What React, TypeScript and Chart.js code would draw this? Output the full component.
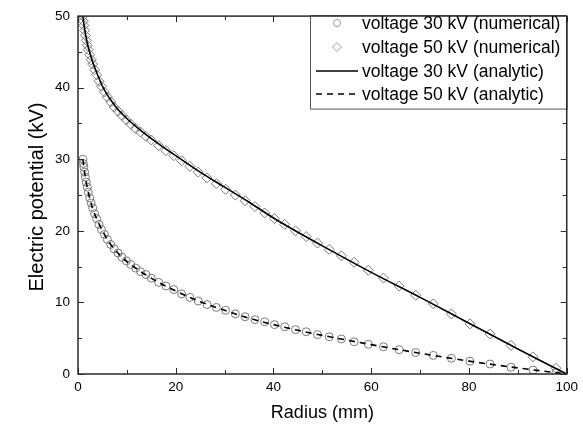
import React, { useEffect, useRef } from "react";
import { Chart, registerables } from "chart.js";

Chart.register(...registerables);

const FONT = "'Liberation Sans', Arial, Helvetica, sans-serif";

// Radius mesh of the numerical solution (mm)
const radius = [
  1.0, 1.1, 1.2, 1.35, 1.5, 1.7, 1.9, 2.1, 2.4, 2.7,
  3.0, 3.4, 3.8, 4.3, 4.8, 5.4, 6.0, 6.7, 7.4, 8.2,
  9.0, 9.9, 10.8, 11.8, 12.8, 13.9, 15.0, 16.5, 18.0, 19.6,
  21.2, 22.9, 24.6, 26.4, 28.3, 30.2, 32.2, 34.2, 36.2, 38.2,
  40.2, 42.3, 44.5, 46.7, 49.0, 51.4, 53.9, 56.5, 59.4, 62.5,
  65.7, 69.1, 72.7, 76.4, 80.2, 84.3, 88.6, 93.1, 97.8,
];

// voltage 30 kV (numerical), kV
const potential30Numerical = [
  30.0, 29.4, 28.9, 28.2, 27.5, 26.8, 26.1, 25.4, 24.6, 23.9,
  23.2, 22.4, 21.7, 20.9, 20.2, 19.5, 18.8, 18.1, 17.5, 16.9,
  16.3, 15.8, 15.3, 14.8, 14.3, 13.9, 13.4, 12.8, 12.3, 11.8,
  11.2, 10.7, 10.2, 9.7, 9.3, 8.9, 8.4, 8.0, 7.6, 7.3,
  6.9, 6.6, 6.2, 5.9, 5.5, 5.2, 4.9, 4.5, 4.15, 3.8,
  3.4, 3.0, 2.6, 2.2, 1.8, 1.4, 0.95, 0.55, 0.2,
];

// voltage 50 kV (numerical), kV
const potential50Numerical = [
  50.0, 49.3, 48.7, 48.0, 47.3, 46.6, 45.9, 45.3, 44.6, 43.9,
  43.3, 42.5, 41.8, 40.9, 40.2, 39.4, 38.7, 38.0, 37.3, 36.7,
  36.1, 35.5, 34.9, 34.3, 33.8, 33.2, 32.7, 31.9, 31.2, 30.5,
  29.8, 29.0, 28.2, 27.4, 26.6, 25.8, 25.0, 24.2, 23.4, 22.5,
  21.7, 20.9, 20.0, 19.2, 18.3, 17.4, 16.5, 15.6, 14.5, 13.4,
  12.3, 11.0, 9.8, 8.4, 7.0, 5.6, 4.0, 2.4, 0.8,
];

// Analytic curves
const analyticRadius = [
  1, 1.2, 1.5, 2, 2.5, 3, 4, 5, 6, 7, 8, 10, 12, 14, 17, 20,
  25, 30, 35, 40, 45, 50, 60, 70, 80, 90, 100,
];
// solid line (legend: voltage 30 kV (analytic)) – upper curve
const analyticSolid = [
  50.0, 48.9, 47.6, 45.9, 44.7, 43.6, 41.8, 40.2, 39.0, 38.0, 37.1, 35.7,
  34.5, 33.4, 31.9, 30.5, 28.2, 26.1, 24.0, 21.8, 19.8, 17.9, 14.2, 10.7,
  7.1, 3.5, 0,
];
// dashed line (legend: voltage 50 kV (analytic)) – lower curve
const analyticDashed = [
  30.0, 28.9, 27.5, 25.7, 24.3, 23.1, 21.4, 20.0, 18.8, 17.8, 17.0, 15.7,
  14.7, 13.8, 12.6, 11.6, 10.1, 8.9, 7.8, 6.9, 6.1, 5.4, 4.1, 2.9,
  1.8, 0.85, 0,
];

const xMajorTicks = [0, 20, 40, 60, 80, 100];
const xMinorTicks = [10, 30, 50, 70, 90];
const yMajorTicks = [0, 10, 20, 30, 40, 50];
const yMinorTicks = [5, 15, 25, 35, 45];

const legendLabels = [
  "voltage 30 kV (numerical)",
  "voltage 50 kV (numerical)",
  "voltage 30 kV (analytic)",
  "voltage 50 kV (analytic)",
];
const xTitle = "Radius (mm)";
const yTitle = "Electric potential (kV)";

const MARKER_COLOR = "#7a7a7a";

const decorPlugin = {
  id: "decor",
  afterDraw(chart: any) {
    const ctx: CanvasRenderingContext2D = chart.ctx;
    const { left, right, top, bottom } = chart.chartArea;
    const xs = chart.scales.x;
    const ys = chart.scales.y;
    ctx.save();
    // frame
    ctx.strokeStyle = "#2a2a2a";
    ctx.lineWidth = 1.5;
    ctx.strokeRect(left, top, right - left, bottom - top);
    // ticks (inward)
    ctx.lineWidth = 1;
    ctx.beginPath();
    const tickX = (v: number, len: number) => {
      const px = Math.round(xs.getPixelForValue(v)) + 0.5;
      ctx.moveTo(px, bottom);
      ctx.lineTo(px, bottom - len);
      ctx.moveTo(px, top);
      ctx.lineTo(px, top + len);
    };
    const tickY = (v: number, len: number) => {
      const py = Math.round(ys.getPixelForValue(v)) + 0.5;
      ctx.moveTo(left, py);
      ctx.lineTo(left + len, py);
      ctx.moveTo(right, py);
      ctx.lineTo(right - len, py);
    };
    xMajorTicks.forEach((v) => tickX(v, 6));
    xMinorTicks.forEach((v) => tickX(v, 4));
    yMajorTicks.forEach((v) => tickY(v, 6));
    yMinorTicks.forEach((v) => tickY(v, 4));
    ctx.stroke();

    // axis titles
    ctx.fillStyle = "#000";
    ctx.font = `18px ${FONT}`;
    ctx.textAlign = "center";
    ctx.textBaseline = "middle";
    ctx.fillText(xTitle, (left + right) / 2, 413);
    ctx.save();
    ctx.translate(37, 197);
    ctx.rotate(-Math.PI / 2);
    ctx.font = `20px ${FONT}`;
    ctx.fillText(yTitle, 0, 0);
    ctx.restore();

    // legend box
    const bx = 310.5;
    const by = top;
    const bw = right - bx;
    const bh = 93;
    ctx.fillStyle = "#fff";
    ctx.fillRect(bx, by, bw, bh);
    ctx.strokeStyle = "#555";
    ctx.lineWidth = 1;
    ctx.beginPath();
    ctx.moveTo(bx, by);
    ctx.lineTo(bx, by + bh);
    ctx.lineTo(right, by + bh);
    ctx.stroke();
    // redraw frame edges over legend
    ctx.strokeStyle = "#2a2a2a";
    ctx.lineWidth = 1.5;
    ctx.beginPath();
    ctx.moveTo(right, top);
    ctx.lineTo(right, by + bh + 1);
    ctx.moveTo(bx, top);
    ctx.lineTo(right, top);
    ctx.stroke();

    const rowY = [23, 47, 71, 94];
    const symX = 337;
    const lineX0 = 316;
    const lineX1 = 358;
    const textX = 362;
    // row 1: circle
    ctx.strokeStyle = "#9a9a9a";
    ctx.lineWidth = 1;
    ctx.beginPath();
    ctx.arc(symX, rowY[0], 3.5, 0, Math.PI * 2);
    ctx.stroke();
    // row 2: diamond
    ctx.beginPath();
    ctx.moveTo(symX, rowY[1] - 4.5);
    ctx.lineTo(symX + 4.5, rowY[1]);
    ctx.lineTo(symX, rowY[1] + 4.5);
    ctx.lineTo(symX - 4.5, rowY[1]);
    ctx.closePath();
    ctx.stroke();
    // row 3: solid
    ctx.strokeStyle = "#000";
    ctx.lineWidth = 1.5;
    ctx.beginPath();
    ctx.moveTo(lineX0, rowY[2]);
    ctx.lineTo(lineX1, rowY[2]);
    ctx.stroke();
    // row 4: dashed
    ctx.setLineDash([6, 5]);
    ctx.beginPath();
    ctx.moveTo(lineX0, rowY[3]);
    ctx.lineTo(lineX1, rowY[3]);
    ctx.stroke();
    ctx.setLineDash([]);

    ctx.fillStyle = "#000";
    ctx.font = `17.5px ${FONT}`;
    ctx.textAlign = "left";
    ctx.textBaseline = "middle";
    legendLabels.forEach((t, i) => ctx.fillText(t, textX, rowY[i] + 1));
    ctx.restore();
  },
};

export default function App() {
  const canvasRef = useRef<HTMLCanvasElement | null>(null);

  useEffect(() => {
    document.body.style.margin = "0";
    const canvas = canvasRef.current;
    if (!canvas) return;
    const toXY = (xv: number[], yv: number[]) =>
      xv.map((x, i) => ({ x, y: yv[i] }));

    const chart = new Chart(canvas, {
      type: "scatter",
      data: {
        datasets: [
          {
            label: legendLabels[2],
            type: "line",
            data: toXY(analyticRadius, analyticSolid),
            borderColor: "#000",
            borderWidth: 1.6,
            pointRadius: 0,
            showLine: true,
            fill: false,
            cubicInterpolationMode: "monotone",
            order: 0,
          } as any,
          {
            label: legendLabels[3],
            type: "line",
            data: toXY(analyticRadius, analyticDashed),
            borderColor: "#000",
            borderWidth: 1.6,
            borderDash: [6, 5],
            pointRadius: 0,
            showLine: true,
            fill: false,
            cubicInterpolationMode: "monotone",
            order: 0,
          } as any,
          {
            label: legendLabels[0],
            data: toXY(radius, potential30Numerical),
            pointStyle: "circle",
            pointRadius: 4,
            borderColor: MARKER_COLOR,
            backgroundColor: "rgba(0,0,0,0)",
            borderWidth: 1,
            showLine: false,
            order: 1,
          },
          {
            label: legendLabels[1],
            data: toXY(radius, potential50Numerical),
            pointStyle: "rectRot",
            pointRadius: 5,
            borderColor: MARKER_COLOR,
            backgroundColor: "rgba(0,0,0,0)",
            borderWidth: 1,
            showLine: false,
            order: 1,
          },
        ],
      },
      options: {
        responsive: false,
        animation: false,
        layout: { padding: { top: 12, right: 13, left: 0, bottom: 0 } },
        plugins: {
          legend: { display: false },
          tooltip: { enabled: false },
        },
        scales: {
          x: {
            type: "linear",
            min: 0,
            max: 100,
            afterFit(s: any) {
              s.height = 55;
            },
            ticks: {
              stepSize: 20,
              padding: 5,
              color: "#000",
              maxRotation: 0,
              font: { family: FONT, size: 13.5 },
            },
            grid: { display: false, drawTicks: false },
            border: { display: false },
          },
          y: {
            type: "linear",
            min: 0,
            max: 50,
            afterFit(s: any) {
              s.width = 78;
            },
            ticks: {
              stepSize: 10,
              padding: 8,
              color: "#000",
              font: { family: FONT, size: 13.5 },
            },
            grid: { display: false, drawTicks: false },
            border: { display: false },
          },
        },
      },
      plugins: [decorPlugin],
    });
    return () => chart.destroy();
  }, []);

  return (
    <div style={{ position: "fixed", left: 0, top: 0, width: 583, height: 429, background: "#fff" }}>
      <canvas ref={canvasRef} width={583} height={429} />
    </div>
  );
}
